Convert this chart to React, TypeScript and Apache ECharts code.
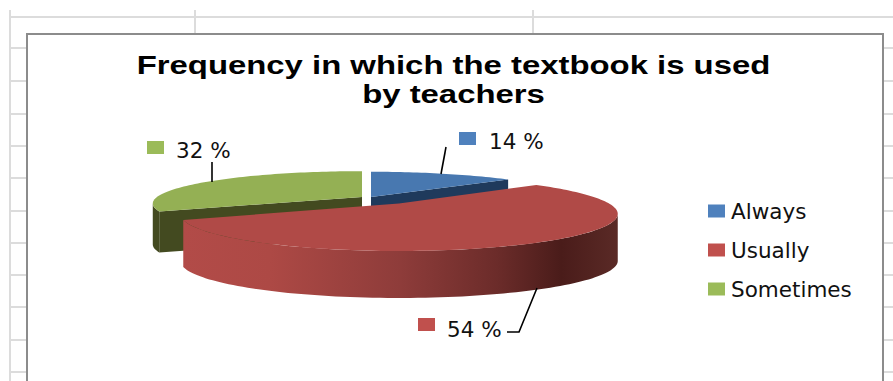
import React, { useEffect, useRef } from "react";
import * as echarts from "echarts";

const categories = ["Always", "Usually", "Sometimes"];
const shares = [14, 54, 32];
const titleLines = ["Frequency in which the textbook is used", "by teachers"];
const legendColors = ["#4f81bd", "#c0504d", "#9bbb59"];
const topColors = ["#4878b0", "#b04a47", "#94b054"];
const wallColors = ["#1f3a5c", "#b04a47", "#434a20"];

// Projected disc of each exploded slice: apex, radii, perspective strength, thickness.
const discs = [
  { cx: 371, cy: 197, rx: 212, ry: 32.8, k: 0.3, depth: 30 },
  { cx: 399, cy: 203.5, rx: 210, ry: 34.2, k: 0.28, depth: 47 },
  { cx: 362, cy: 197, rx: 205, ry: 31, k: 0.2, depth: 41 },
];

// Marker corner, text start and leader line of each value label.
const callouts = [
  { mx: 459, my: 132, tx: 489, ty: 141, line: [[446, 147], [441, 174]] },
  { mx: 418, my: 318, tx: 447, ty: 329, line: [[537, 288], [519, 332], [507, 332]] },
  { mx: 147, my: 141, tx: 176, ty: 150, line: [[212, 162], [212, 182]] },
];

const rowLines = [48, 81, 114, 146, 178, 211, 243, 275, 307, 340, 372];
const columnLines = [195, 533];
const LABEL_FONT = "DejaVu Sans";
const DEG = Math.PI / 180;

type Disc = (typeof discs)[number];

function project(d: Disc, deg: number): number[] {
  const u = Math.sin(deg * DEG);
  const v = -Math.cos(deg * DEG);
  const s = 1 / (1 - d.k * v);
  return [d.cx + d.rx * u * s, d.cy + d.ry * v * s];
}

function arc(d: Disc, from: number, to: number): number[][] {
  const pts: number[][] = [];
  const steps = Math.max(2, Math.ceil((to - from) / 1.5));
  for (let i = 0; i <= steps; i++) pts.push(project(d, from + ((to - from) * i) / steps));
  return pts;
}

const total = shares.reduce((a, b) => a + b, 0);

function sliceElements(i: number) {
  const d = discs[i];
  const start = (shares.slice(0, i).reduce((a, b) => a + b, 0) / total) * 360;
  const end = start + (shares[i] / total) * 360;
  const apex = [d.cx, d.cy];
  const down = (p: number[]) => [p[0], p[1] + d.depth];
  const children: any[] = [];

  const wall = (deg: number, normal: number) => {
    if (Math.cos(normal * DEG) < -1e-6) {
      const rim = project(d, deg);
      children.push({
        type: "polygon",
        shape: { points: [apex, rim, down(rim), down(apex)] },
        style: { fill: wallColors[i] },
      });
    }
  };
  wall(start, start - 90);
  wall(end, end + 90);

  // Outer curved side, only where the rim faces the viewer.
  const ext = Math.acos(-d.k) / DEG;
  const from = Math.max(start, ext);
  const to = Math.min(end, 360 - ext);
  if (to > from) {
    const rim = arc(d, from, to);
    const fill =
      i === 1
        ? new echarts.graphic.LinearGradient(0, 0, 1, 0, [
            { offset: 0, color: "#b24b48" },
            { offset: 0.2, color: "#ad4945" },
            { offset: 0.5, color: "#8e3c3a" },
            { offset: 0.72, color: "#6c2c2a" },
            { offset: 0.87, color: "#4a1c1a" },
            { offset: 1, color: "#5a2a26" },
          ])
        : wallColors[i];
    children.push({
      type: "polygon",
      shape: { points: [...rim, ...rim.slice().reverse().map(down)] },
      style: { fill },
    });
  }

  children.push({
    type: "polygon",
    shape: { points: [apex, ...arc(d, start, end)] },
    style: { fill: topColors[i] },
  });

  const c = callouts[i];
  children.push({
    type: "rect",
    shape: { x: c.mx, y: c.my, width: 17, height: 13 },
    style: { fill: legendColors[i] },
  });
  children.push({
    type: "text",
    style: {
      text: `${shares[i]} %`,
      x: c.tx,
      y: c.ty,
      fill: "#111",
      fontSize: 21.5,
      fontFamily: LABEL_FONT,
      verticalAlign: "middle",
    },
  });
  children.push({
    type: "polyline",
    shape: { points: c.line },
    style: { fill: "none", stroke: "#000", lineWidth: 1.6 },
  });
  return { type: "group", children };
}

export default function App() {
  const ref = useRef<HTMLDivElement>(null);
  useEffect(() => {
    const chart = echarts.init(ref.current!, undefined, { renderer: "svg" });
    const gridStyle = { stroke: "#dcdcdc", lineWidth: 2 };
    const gridLine = (x1: number, y1: number, x2: number, y2: number) => ({
      type: "line",
      silent: true,
      shape: { x1, y1, x2, y2 },
      style: gridStyle,
    });
    const titleLine = (text: string, y: number) => ({
      type: "text",
      silent: true,
      x: 453.5,
      y,
      scaleX: 1.315,
      style: {
        text,
        align: "center",
        verticalAlign: "middle",
        fontFamily: "Liberation Sans",
        fontWeight: "bold",
        fontSize: 25,
        fill: "#000",
      },
    });
    chart.setOption({
      animation: false,
      backgroundColor: "#fff",
      legend: {
        orient: "vertical",
        left: 708,
        top: 200,
        padding: 0,
        itemWidth: 17,
        itemHeight: 13,
        itemGap: 17,
        icon: "rect",
        data: categories,
        textStyle: { fontFamily: LABEL_FONT, fontSize: 21.5, color: "#111", padding: [0, 0, 0, 1] },
      },
      graphic: [
        gridLine(10, 10, 10, 381),
        gridLine(10, 17, 893, 17),
        ...columnLines.map((x) => gridLine(x, 10, x, 34)),
        ...rowLines.map((y) => gridLine(10, y, 27, y)),
        ...rowLines.map((y) => gridLine(883, y, 893, y)),
        {
          type: "rect",
          silent: true,
          shape: { x: 27, y: 34, width: 856, height: 360 },
          style: { fill: "none", stroke: "#8c8c8c", lineWidth: 2 },
        },
        titleLine(titleLines[0], 65),
        titleLine(titleLines[1], 94),
      ],
      series: categories.map((name, i) => ({
        type: "custom",
        name,
        coordinateSystem: "none",
        z: i === 1 ? 3 : 2,
        itemStyle: { color: legendColors[i] },
        data: [shares[i]],
        renderItem: () => sliceElements(i),
      })),
    });
    return () => chart.dispose();
  }, []);
  return <div ref={ref} style={{ position: "fixed", left: 0, top: 0, width: 893, height: 381 }} />;
}
